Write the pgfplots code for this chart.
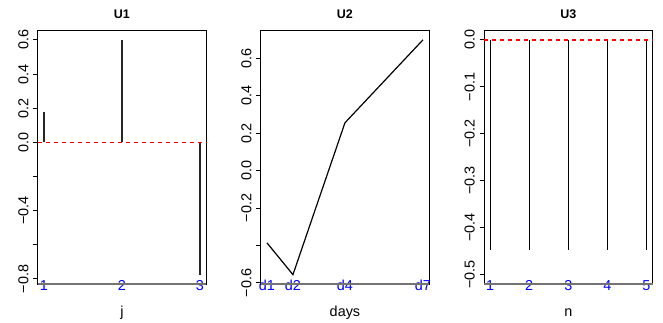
\documentclass[border=0pt]{standalone}
\usepackage{pgfplots}
\pgfplotsset{compat=1.18}
\usepackage{fontspec}
\setmainfont{Liberation Sans}
\definecolor{rblue}{RGB}{0,0,255}
\definecolor{rred}{RGB}{255,0,0}
\pgfplotsset{
  rpanel/.style={
    scale only axis, width=168.5pt, height=253.5pt, anchor=south west,
    axis line style={black, line width=0.9pt},
    tick align=outside, major tick length=4.5pt,
    ytick pos=left, xtick pos=bottom,
    xtick style={draw=none},
    ytick style={black, line width=0.8pt},
    tick label style={font=\fontsize{14.4}{17}\selectfont},
    yticklabel style={rotate=90, anchor=base, inner sep=0pt},
    yticklabel shift=4.9pt,
    xticklabel style={anchor=base, inner sep=0pt, text=rblue},
    xticklabel shift=1.5pt,
    title style={font=\bfseries\fontsize{12.5}{15}\selectfont, at={(axis description cs:0.5,1)}, anchor=base, yshift=6.2pt, inner sep=0pt},
    xlabel style={font=\fontsize{14.4}{17}\selectfont, at={(axis description cs:0.5,0)}, anchor=base, yshift=-32.7pt, inner sep=0pt},
    clip=false,
  }
}
\begin{document}
\begin{tikzpicture}
\useasboundingbox (0,0) rectangle (663pt,322pt);
\fill[white] (0,0) rectangle (663pt,322pt);

% Panel U1
\begin{axis}[rpanel, at={(37.7pt,38pt)},
  xmin=0.92, xmax=3.08, ymin=-0.83, ymax=0.655,
  xtick={1,2,3}, xticklabels={1,2,3},
  ytick={-0.8,-0.6,-0.4,-0.2,0,0.2,0.4,0.6},
  yticklabels={−0.8,,−0.4,,0.0,0.2,0.4,0.6},
  title={U1}, xlabel={j}]
\draw[black!55, line width=1.6pt] (rel axis cs:0,0) -- (rel axis cs:1,0);
\addplot[ycomb, black!85, line width=1.3pt, mark=none] coordinates {(1,0.175) (2,0.6) (3,-0.775)};
\addplot[sharp plot, draw=rred, line width=1.5pt, dash pattern=on 4pt off 4pt, mark=none] coordinates {(0.92,0) (3.08,0)};
\end{axis}

% Panel U2
\begin{axis}[rpanel, at={(260.7pt,38pt)},
  xmin=0.76, xmax=7.24, ymin=-0.606, ymax=0.748,
  xtick={1,2,4,7}, xticklabels={d1,d2,d4,d7},
  ytick={-0.6,-0.4,-0.2,0,0.2,0.4,0.6},
  yticklabels={−0.6,,−0.2,0.0,0.2,0.4,0.6},
  title={U2}, xlabel={days}]
\draw[black!55, line width=1.6pt] (rel axis cs:0,0) -- (rel axis cs:1,0);
\addplot[black, line width=1.2pt, mark=none] coordinates {(1,-0.386) (2,-0.556) (4,0.255) (7,0.698)};
\end{axis}

% Panel U3
\begin{axis}[rpanel, at={(484pt,38pt)},
  xmin=0.84, xmax=5.16, ymin=-0.52, ymax=0.02,
  xtick={1,2,3,4,5}, xticklabels={1,2,3,4,5},
  ytick={-0.5,-0.4,-0.3,-0.2,-0.1,0},
  yticklabels={−0.5,−0.4,−0.3,−0.2,−0.1,0.0},
  title={U3}, xlabel={n}]
\draw[black!55, line width=1.6pt] (rel axis cs:0,0) -- (rel axis cs:1,0);
\addplot[ycomb, black, line width=1.4pt, mark=none] coordinates {(1,-0.447) (2,-0.447) (3,-0.447) (4,-0.447) (5,-0.447)};
\addplot[sharp plot, draw=rred, line width=1.5pt, dash pattern=on 4pt off 4pt, mark=none] coordinates {(0.84,0) (5.16,0)};
\end{axis}
\end{tikzpicture}
\end{document}
